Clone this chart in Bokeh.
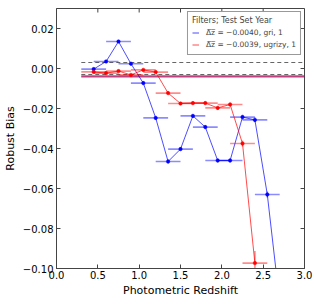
from bokeh.plotting import figure
from bokeh.embed import file_html
from bokeh.resources import INLINE
from bokeh.models import FixedTicker, Range1d, Legend, LegendItem, ColumnDataSource

# data
blue_x = [0.45, 0.60, 0.75, 0.90, 1.05, 1.20, 1.35, 1.50, 1.65, 1.80, 1.95, 2.10, 2.25, 2.40, 2.55, 2.70]
blue_y = [-0.0003, 0.0035, 0.0135, 0.0024, -0.0073, -0.0247, -0.0465, -0.0403, -0.0237, -0.0293,
          -0.046, -0.046, -0.0243, -0.0257, -0.063, -0.117]
blue_xerr = 0.15
blue_yerr = [0.0006, 0.0006, 0.0008, 0.0008, 0.0008, 0.001, 0.001, 0.001, 0.001, 0.001,
             0.001, 0.001, 0.0012, 0.0012, 0.0015, 0.002]

red_x = [0.45, 0.60, 0.75, 0.90, 1.05, 1.20, 1.35, 1.50, 1.65, 1.80, 1.95, 2.10, 2.25, 2.40]
red_y = [-0.0017, -0.0023, -0.0013, -0.0032, -0.0007, -0.0018, -0.0123, -0.0175, -0.0173, -0.0173,
         -0.0197, -0.018, -0.0375, -0.0973]
red_xerr = 0.15
red_yerr = [0.0005, 0.0005, 0.0005, 0.0005, 0.0006, 0.0006, 0.0008, 0.0008, 0.0008, 0.0008,
            0.001, 0.001, 0.0015, 0.006]

bias_blue = -0.0040
bias_red = -0.0039
tol = 0.003
line_x0, line_x1 = 0.3, 3.0

x_ticks = [0.0, 0.5, 1.0, 1.5, 2.0, 2.5, 3.0]
y_ticks = [-0.10, -0.08, -0.06, -0.04, -0.02, 0.00, 0.02]

BLUE = "#0000ff"
RED = "#ff0000"
FRAME = "#444444"

X0, X1 = 0.0, 3.0
Y0, Y1 = -0.10, 0.03

p = figure(width=314, height=304, output_backend="svg", toolbar_location=None,
           x_range=Range1d(X0, X1), y_range=Range1d(Y0, Y1),
           min_border_left=52, min_border_right=10, min_border_top=8, min_border_bottom=36)
p.background_fill_color = "white"
p.border_fill_color = "white"
p.outline_line_color = FRAME
p.outline_line_width = 1
p.xgrid.visible = False
p.ygrid.visible = False

# reference lines
p.segment([line_x0, line_x0], [tol, -tol], [line_x1, line_x1], [tol, -tol],
          line_color="#666666", line_dash="4 3", line_width=1.2)
p.segment([line_x0], [bias_blue], [line_x1], [bias_blue], line_color=BLUE, line_alpha=0.5, line_width=2)
p.segment([line_x0], [bias_red], [line_x1], [bias_red], line_color=RED, line_alpha=0.5, line_width=2)

def series(xs, ys, xerr, yerr, color):
    src = ColumnDataSource(dict(
        x=xs, y=ys,
        x0=[x - xerr for x in xs], x1=[x + xerr for x in xs],
        y0=[y - e for y, e in zip(ys, yerr)], y1=[y + e for y, e in zip(ys, yerr)]))
    p.segment("x0", "y", "x1", "y", source=src, line_color=color, line_alpha=0.45, line_width=1.6)
    p.segment("x", "y0", "x", "y1", source=src, line_color=color, line_alpha=0.45, line_width=1.6)
    ln = p.line("x", "y", source=src, line_color=color, line_alpha=0.7, line_width=1)
    p.scatter("x", "y", source=src, size=3.5, fill_color=color, line_color=color, line_width=0.5)
    return ln

lb = series(blue_x, blue_y, blue_xerr, blue_yerr, BLUE)
lr = series(red_x, red_y, red_xerr, red_yerr, RED)

# inward ticks on top and right edges (matplotlib style)
tick_dx = 4 * (X1 - X0) / 252.0
tick_dy = 4 * (Y1 - Y0) / 260.0
p.segment(x_ticks, [Y1] * len(x_ticks), x_ticks, [Y1 - tick_dy] * len(x_ticks),
          line_color=FRAME, line_width=1)
p.segment([X1] * len(y_ticks), y_ticks, [X1 - tick_dx] * len(y_ticks), y_ticks,
          line_color=FRAME, line_width=1)

legend = Legend(items=[
    LegendItem(label="Δ̅z̅ = −0.0040, gri, 1", renderers=[lb]),
    LegendItem(label="Δ̅z̅ = −0.0039, ugrizy, 1", renderers=[lr]),
], location="top_right")
legend.title = "Filters; Test Set Year"
legend.title_text_font_style = "normal"
legend.title_text_font_size = "8px"
legend.title_text_font = "DejaVu Sans"
legend.title_standoff = 2
legend.label_text_font_size = "7.5px"
legend.label_text_font = "DejaVu Sans"
legend.glyph_width = 7
legend.glyph_height = 11
legend.label_height = 11
legend.spacing = 1
legend.padding = 4
legend.margin = 3
legend.border_line_color = "#333333"
legend.border_line_width = 1
legend.label_standoff = 7
p.add_layout(legend)

for ax in (p.xaxis[0], p.yaxis[0]):
    ax.major_tick_in = 4
    ax.major_tick_out = 0
    ax.minor_tick_in = 0
    ax.minor_tick_out = 0
    ax.major_label_text_font = "DejaVu Sans"
    ax.major_label_text_font_size = "10px"
    ax.major_label_text_color = "black"
    ax.axis_label_text_font = "DejaVu Sans"
    ax.axis_label_text_font_size = "11px"
    ax.axis_label_text_font_style = "normal"
    ax.axis_label_text_color = "black"
    ax.axis_line_color = FRAME
    ax.major_tick_line_color = FRAME

p.xaxis[0].ticker = FixedTicker(ticks=x_ticks)
p.yaxis[0].ticker = FixedTicker(ticks=y_ticks)
p.xaxis[0].axis_label = "Photometric Redshift"
p.yaxis[0].axis_label = "Robust Bias"
p.xaxis[0].major_label_standoff = 2
p.xaxis[0].axis_label_standoff = 2
p.yaxis[0].major_label_standoff = 3
p.yaxis[0].axis_label_standoff = 3
p.xaxis[0].major_label_overrides = {t: f"{t:.1f}" for t in x_ticks}
p.yaxis[0].major_label_overrides = {t: (f"{t:.2f}".replace("-", "−") if t != 0 else "0.00") for t in y_ticks}

open("out.html", "w").write(file_html(p, INLINE))
